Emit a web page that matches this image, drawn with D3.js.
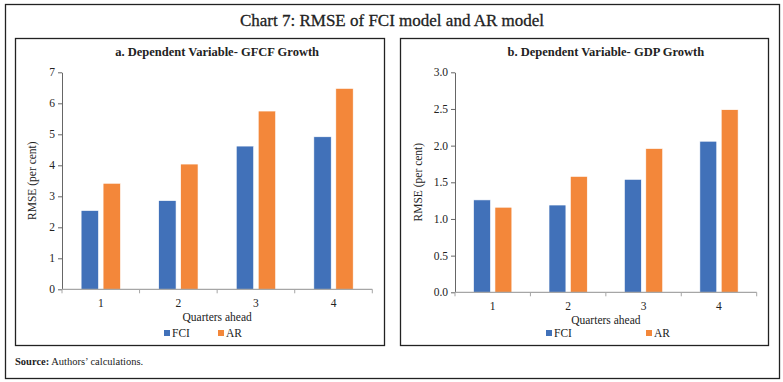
<!DOCTYPE html>
<html>
<head>
<meta charset="utf-8">
<script src="https://cdn.jsdelivr.net/npm/d3@7"></script>
<style>
  body { margin: 0; background: #fff; }
  svg text { font-family: "Liberation Serif", serif; fill: #222; }
</style>
</head>
<body>
<svg id="chart" width="783" height="382"></svg>
<script>
// values
const quarters = ['1', '2', '3', '4'];
const seriesNames = ['FCI', 'AR'];
const gfcfFCI = [2.54, 2.86, 4.62, 4.92];
const gfcfAR = [3.42, 4.04, 5.75, 6.48];
const gdpFCI = [1.26, 1.19, 1.54, 2.06];
const gdpAR = [1.16, 1.58, 1.96, 2.49];
const gfcfTicks = [0, 1, 2, 3, 4, 5, 6, 7];
const gdpTicks = [0, 0.5, 1.0, 1.5, 2.0, 2.5, 3.0];

const colors = {'FCI': '#4171b9', 'AR': '#f3873a'};

let svg = d3.select('#chart');

// outer frame
svg.append('rect')
  .attr('x', 5.5).attr('y', 4.5)
  .attr('width', 774).attr('height', 374)
  .attr('fill', 'none').attr('stroke', '#222').attr('stroke-width', 1.3);

svg.append('text')
  .attr('x', 392).attr('y', 26)
  .attr('text-anchor', 'middle')
  .style('font-size', '17px')
  .style('stroke', '#222').style('stroke-width', 0.3)
  .text('Chart 7: RMSE of FCI model and AR model');

svg.append('text')
  .attr('x', 15).attr('y', 365)
  .style('font-size', '10.5px')
  .html('<tspan font-weight="bold">Source:</tspan> Authors\u2019 calculations.');

/**
 * Draw one panel of grouped bars
 */
function drawPanel(p) {
  let g = svg.append('g');

  g.append('rect')
    .attr('x', p.box[0]).attr('y', p.box[1])
    .attr('width', p.box[2]).attr('height', p.box[3])
    .attr('fill', 'none').attr('stroke', '#222').attr('stroke-width', 1.3);

  g.append('text')
    .attr('x', (p.left + p.right) / 2).attr('y', 56)
    .attr('text-anchor', 'middle')
    .style('font-size', '12.5px')
    .style('font-weight', 'bold')
    .text(p.title);

  let xScale = d3.scaleBand()
    .domain(quarters)
    .range([p.left, p.right]);

  let x1 = d3.scaleBand()
    .domain(seriesNames)
    .range([0, xScale.bandwidth()])
    .paddingInner(0.21)
    .paddingOuter(0.87);

  let yScale = d3.scaleLinear()
    .domain([0, p.max])
    .range([p.bottom, 72.3]);

  let rows = [];
  for (let i = 0; i < quarters.length; i++) {
    rows.push({q: quarters[i], s: 'FCI', v: p.fci[i]});
    rows.push({q: quarters[i], s: 'AR', v: p.ar[i]});
  }

  g.selectAll('rect.bar')
    .data(rows)
    .enter()
    .append('rect')
      .attr('class', 'bar')
      .attr('x', d => xScale(d.q) + x1(d.s))
      .attr('width', x1.bandwidth())
      .attr('y', d => yScale(d.v))
      .attr('height', d => p.bottom - yScale(d.v))
      .attr('fill', d => colors[d.s])
      .attr('stroke', '#fff')
      .attr('stroke-width', 0.6);

  // y axis
  let yAxis = d3.axisLeft(yScale)
    .tickValues(p.ticks)
    .tickFormat(p.fmt)
    .tickSize(4)
    .tickSizeOuter(0);
  let ya = g.append('g')
    .attr('transform', `translate(${p.left}, 0)`)
    .call(yAxis);
  ya.select('.domain').attr('stroke', '#666');
  ya.selectAll('line').attr('stroke', '#666');
  ya.selectAll('text')
    .attr('x', -7)
    .style('font-size', '11.5px')
    .style('font-family', '"Liberation Serif", serif')
    .attr('fill', '#333');

  // x axis, ticks at band edges
  let edges = quarters.map(q => xScale(q)).concat([p.right]);
  g.append('line')
    .attr('x1', p.left).attr('x2', p.right)
    .attr('y1', p.bottom).attr('y2', p.bottom)
    .attr('stroke', '#a6a6a6').attr('stroke-width', 1.2);
  g.selectAll('line.xt')
    .data(edges)
    .enter()
    .append('line')
      .attr('class', 'xt')
      .attr('x1', d => d).attr('x2', d => d)
      .attr('y1', p.bottom).attr('y2', p.bottom + 4)
      .attr('stroke', '#a6a6a6');
  g.selectAll('text.xl')
    .data(quarters)
    .enter()
    .append('text')
      .attr('class', 'xl')
      .attr('x', d => xScale(d) + xScale.bandwidth() / 2)
      .attr('y', p.bottom + 18)
      .attr('text-anchor', 'middle')
      .style('font-size', '11.5px')
      .text(d => d);

  g.append('text')
    .attr('x', (p.left + p.right) / 2).attr('y', p.bottom + 32)
    .attr('text-anchor', 'middle')
    .style('font-size', '11.5px')
    .text('Quarters ahead');

  g.append('text')
    .attr('transform', `translate(${p.ylabX}, ${(p.bottom + 72) / 2}) rotate(-90)`)
    .attr('text-anchor', 'middle')
    .style('font-size', '11.5px')
    .text('RMSE (per cent)');

  // legend
  let lg = g.selectAll('g.leg')
    .data(seriesNames)
    .enter()
    .append('g')
      .attr('class', 'leg')
      .attr('transform', (d, i) => `translate(${p.legX[i]}, 334)`);
  lg.append('rect')
    .attr('x', 0).attr('y', -4)
    .attr('width', 6).attr('height', 6)
    .attr('fill', d => colors[d]);
  lg.append('text')
    .attr('x', 8).attr('y', 3)
    .style('font-size', '11.5px')
    .text(d => d);
}

drawPanel({
  box: [15.5, 38.5, 369, 307],
  title: 'a. Dependent Variable- GFCF Growth',
  left: 62, right: 372.3, bottom: 289.3,
  max: 7, ticks: gfcfTicks, fmt: d3.format('d'),
  fci: gfcfFCI, ar: gfcfAR,
  ylabX: 36, legX: [164, 218]
});

drawPanel({
  box: [400.5, 38.5, 368, 307],
  title: 'b. Dependent Variable- GDP Growth',
  left: 455, right: 756.7, bottom: 292.3,
  max: 3, ticks: gdpTicks, fmt: d3.format('.1f'),
  fci: gdpFCI, ar: gdpAR,
  ylabX: 422, legX: [546, 646]
});
</script>
</body>
</html>
